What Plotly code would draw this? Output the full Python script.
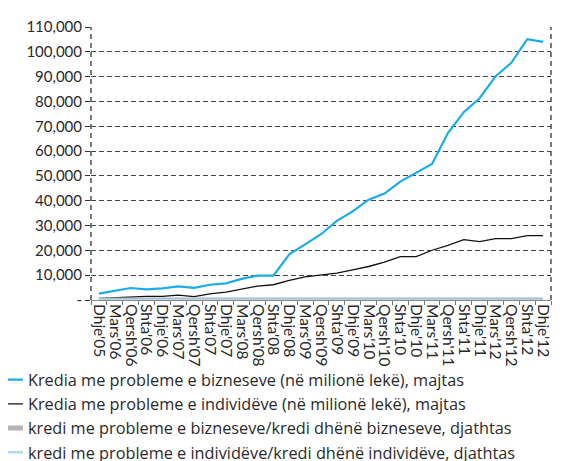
import plotly.graph_objects as go

categories = ["Dhje'05", "Mars'06", "Qersh'06", "Shta'06", "Dhje'06", "Mars'07", "Qersh'07",
              "Shta'07", "Dhje'07", "Mars'08", "Qersh'08", "Shta'08", "Dhje'08", "Mars'09",
              "Qersh'09", "Shta'09", "Dhje'09", "Mars'10", "Qersh'10", "Shta'10", "Dhje'10",
              "Mars'11", "Qersh'11", "Shta'11", "Dhje'11", "Mars'12", "Qersh'12", "Shta'12",
              "Dhje'12"]

npl_business = [2540, 3700, 4830, 4300, 4700, 5500, 4900, 6150, 6700, 8500, 9800, 9800,
                18400, 22400, 26500, 31900, 35700, 40400, 42900, 47700, 51400, 54800,
                67300, 75700, 81300, 90100, 95600, 105100, 104000]

npl_individuals = [600, 900, 1400, 1450, 1450, 1950, 1400, 2450, 3150, 4350, 5600, 6150,
                   7900, 9300, 10200, 10800, 12150, 13500, 15250, 17450, 17450, 20050,
                   22000, 24300, 23500, 24700, 24700, 25900, 25900]

# ratios (plotted against the left axis in the original, so they lie on zero)
ratio_business = [0.03, 0.03, 0.03, 0.03, 0.03, 0.03, 0.03, 0.03, 0.03, 0.04, 0.04, 0.04,
                  0.07, 0.08, 0.09, 0.10, 0.11, 0.12, 0.13, 0.14, 0.15, 0.16, 0.18, 0.19,
                  0.20, 0.21, 0.22, 0.24, 0.24]
ratio_individuals = [0.02, 0.02, 0.02, 0.02, 0.02, 0.02, 0.02, 0.02, 0.02, 0.03, 0.03, 0.03,
                     0.04, 0.05, 0.06, 0.06, 0.07, 0.08, 0.09, 0.10, 0.10, 0.11, 0.12, 0.13,
                     0.13, 0.14, 0.14, 0.15, 0.15]

names = ["Kredia me probleme e bizneseve (në milionë lekë), majtas",
         "Kredia me probleme e individëve (në milionë lekë), majtas",
         "kredi me probleme e bizneseve/kredi dhënë bizneseve, djathtas",
         "kredi me probleme e individëve/kredi dhënë individëve, djathtas"]

y_ticks = [0, 10000, 20000, 30000, 40000, 50000, 60000, 70000, 80000, 90000, 100000, 110000]
y_ticktext = ["-", "10,000", "20,000", "30,000", "40,000", "50,000", "60,000", "70,000",
              "80,000", "90,000", "100,000", "110,000"]

FONT = "Lato"
TXT = "#2a2a2a"

fig = go.Figure()
fig.add_trace(go.Scatter(x=categories, y=npl_business, mode="lines", name=names[0],
                         line=dict(color="#1aace8", width=2.2)))
fig.add_trace(go.Scatter(x=categories, y=npl_individuals, mode="lines", name=names[1],
                         line=dict(color="#111111", width=1.3)))
fig.add_trace(go.Scatter(x=categories, y=ratio_business, mode="lines", name=names[2],
                         line=dict(color="#b4b4b4", width=5)))
fig.add_trace(go.Scatter(x=categories, y=ratio_individuals, mode="lines", name=names[3],
                         line=dict(color="#a9dcf4", width=2.5)))

# dashed left and right vertical axis lines
fig.add_shape(type="line", xref="paper", yref="paper", x0=0, x1=0, y0=0, y1=1,
              line=dict(color="#222", width=1.2, dash="5px,4px"), layer="below")
fig.add_shape(type="line", xref="paper", yref="paper", x0=1, x1=1, y0=0, y1=1,
              line=dict(color="#222", width=1.2, dash="5px,4px"), layer="below")

fig.update_layout(
    width=585, height=461,
    margin=dict(l=83, r=42, t=19, b=169, autoexpand=False),
    paper_bgcolor="white", plot_bgcolor="white",
    font=dict(family=FONT, color=TXT, size=15),
    showlegend=True,
    legend=dict(orientation="v", xref="paper", yref="container", x=-0.224, y=0.231,
                xanchor="left", yanchor="top",
                font=dict(size=16.3, color=TXT, family="Open Sans"),
                bgcolor="rgba(0,0,0,0)", tracegroupgap=0, itemwidth=30),
    xaxis=dict(type="category", range=[-0.5, 28.5], tickangle=90,
               tickmode="array", tickvals=categories, ticktext=categories,
               showgrid=False, showline=True, linecolor="#888", linewidth=1,
               ticks="outside", ticklen=4, tickcolor="#777", tickson="boundaries",
               tickfont=dict(size=15.5, color=TXT), zeroline=False, automargin=False),
    yaxis=dict(range=[0, 110000], tickvals=y_ticks, ticktext=y_ticktext,
               showgrid=True, gridcolor="#444", griddash="5px,3px", gridwidth=1,
               ticks="outside", ticklen=5, tickcolor="#333", zeroline=False,
               showline=False, tickfont=dict(size=15, color=TXT), automargin=False),
)

fig.write_html("out.html")
